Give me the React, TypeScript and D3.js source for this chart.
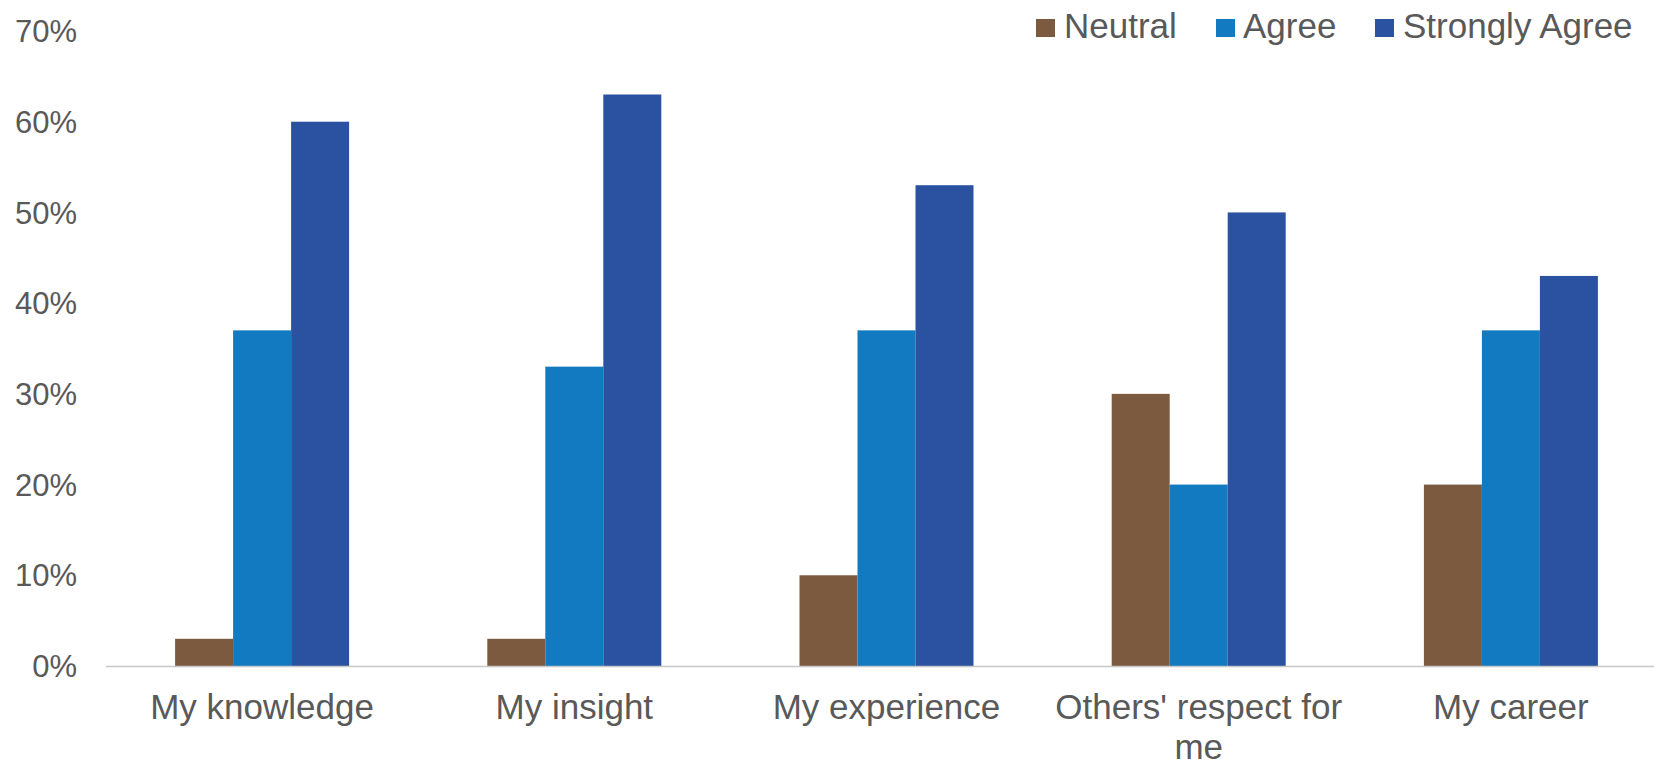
import React from "react";
import * as d3 from "d3";

const categories = ["My knowledge", "My insight", "My experience", "Others' respect for me", "My career"];
const categoryLines = [["My knowledge"], ["My insight"], ["My experience"], ["Others' respect for", "me"], ["My career"]];
const seriesNames = ["Neutral", "Agree", "Strongly Agree"];
const neutral = [0.03, 0.03, 0.10, 0.30, 0.20];
const agree = [0.37, 0.33, 0.37, 0.20, 0.37];
const stronglyAgree = [0.60, 0.63, 0.53, 0.50, 0.43];
const yTicks = [0, 0.1, 0.2, 0.3, 0.4, 0.5, 0.6, 0.7];
const colors = ["#7B5A40", "#117AC0", "#2B52A1"];

const W = 1654;
const H = 764;
const FONT = "Liberation Sans, Arial, sans-serif";
const TEXT = "#595959";

export default function App() {
  const seriesValues = [neutral, agree, stronglyAgree];
  const x0 = d3.scaleBand<string>().domain(categories).range([106, 1667]).padding(0);
  const y = d3.scaleLinear().domain([0, 0.7]).range([666, 31]);
  const gw = 174;
  const legendItems = [
    { name: seriesNames[0], sq: 1036, tx: 1064 },
    { name: seriesNames[1], sq: 1216, tx: 1243 },
    { name: seriesNames[2], sq: 1375, tx: 1403 },
  ];
  return (
    <svg
      width={W}
      height={H}
      style={{ position: "absolute", left: 0, top: 0, background: "#fff" }}
      fontFamily={FONT}
    >
      {yTicks.map((t) => (
        <text key={t} x={77} y={y(t)} dy="0.36em" textAnchor="end" fontSize={31} fill={TEXT}>
          {d3.format(".0%")(t)}
        </text>
      ))}
      {categories.map((c, ci) => {
        const bw = x0.bandwidth();
        const start = (x0(c) as number) + (bw - gw) / 2;
        const x1 = d3.scaleBand<string>().domain(seriesNames).range([start, start + gw]).padding(0);
        return (
          <g key={c}>
            {seriesNames.map((s, si) => (
              <rect
                key={s}
                x={x1(s) as number}
                y={y(seriesValues[si][ci])}
                width={x1.bandwidth()}
                height={y(0) - y(seriesValues[si][ci])}
                fill={colors[si]}
              />
            ))}
            {categoryLines[ci].map((line, li) => (
              <text
                key={li}
                x={(x0(c) as number) + bw / 2}
                y={719 + li * 40}
                textAnchor="middle"
                fontSize={35}
                fill={TEXT}
              >
                {line}
              </text>
            ))}
          </g>
        );
      })}
      <line x1={106} x2={1654} y1={666.5} y2={666.5} stroke="#C8C8C8" strokeWidth={1.5} />
      {legendItems.map((it, i) => (
        <g key={it.name}>
          <rect x={it.sq} y={19} width={19} height={18} fill={colors[i]} />
          <text x={it.tx} y={38} fontSize={35} fill={TEXT}>
            {it.name}
          </text>
        </g>
      ))}
    </svg>
  );
}
